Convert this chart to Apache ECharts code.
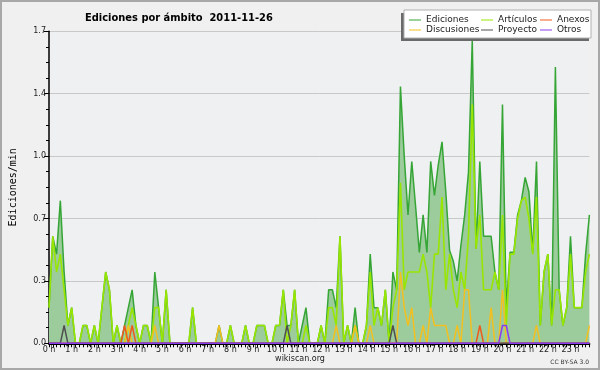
<!DOCTYPE html>
<html><head><meta charset="utf-8">
<script src="https://cdn.jsdelivr.net/npm/echarts@6/dist/echarts.min.js"></script>
<style>html,body{margin:0;padding:0;background:#f0f0f0}#c{width:600px;height:370px}</style>
</head><body><div id="c"></div>
<script>
const hourLabels = ['0 h','1 h','2 h','3 h','4 h','5 h','6 h','7 h','8 h','9 h','10 h','11 h','12 h','13 h','14 h','15 h','16 h','17 h','18 h','19 h','20 h','21 h','22 h','23 h'];
const yTickLabels = ['0.0','0.3','0.7','1.0','1.4','1.7'];

const ediciones = [
 0.2,0.6,0.5,0.8,0.4,0.1,0.2,0,0,0.1,0.1,0,
 0.1,0,0.2,0.4,0.3,0,0.1,0,0.1,0.2,0.3,0.1,
 0,0.1,0.1,0,0.4,0.2,0,0.3,0,0,0,0,
 0,0,0.2,0,0,0,0,0,0,0.1,0,0,
 0.1,0,0,0,0.1,0,0,0.1,0.1,0.1,0,0,
 0.1,0.1,0.3,0.1,0.1,0.3,0,0.1,0.2,0,0,0,
 0.1,0,0.3,0.3,0.2,0.6,0,0.1,0,0.2,0,0,
 0.1,0.5,0.2,0.2,0.1,0.3,0,0.4,0.3,1.44,1.05,0.72,
 1.02,0.77,0.51,0.72,0.51,1.02,0.83,1.0,1.13,0.85,0.52,0.46,
 0.35,0.55,0.72,0.96,1.7,0.53,1.02,0.6,0.6,0.6,0.4,0.3,
 1.34,0.2,0.51,0.51,0.72,0.8,0.93,0.85,0.51,1.02,0.1,0.4,
 0.5,0.1,1.55,0.3,0.1,0.2,0.6,0.2,0.2,0.2,0.5,0.72];
const articulos = [
 0.2,0.6,0.4,0.5,0.3,0.1,0.2,0,0,0.1,0.1,0,
 0.1,0,0.2,0.4,0.3,0,0.1,0,0,0.1,0.2,0.1,
 0,0.1,0.1,0,0.2,0.2,0,0.3,0,0,0,0,
 0,0,0.2,0,0,0,0,0,0,0,0,0,
 0.1,0,0,0,0.1,0,0,0.1,0.1,0.1,0,0,
 0.1,0.1,0.3,0,0.1,0.3,0,0,0.1,0,0,0,
 0.1,0,0.2,0.2,0.1,0.6,0,0.1,0,0.1,0,0,
 0.1,0.4,0.1,0.2,0.1,0.3,0,0.2,0.3,0.9,0.3,0.4,
 0.4,0.4,0.4,0.5,0.4,0.2,0.5,0.5,0.82,0.3,0.5,0.3,
 0.2,0.4,0.3,0.6,1.34,0.53,0.72,0.3,0.3,0.3,0.4,0.3,
 0.72,0.1,0.5,0.5,0.7,0.8,0.82,0.7,0.5,0.82,0.1,0.4,
 0.5,0.1,0.3,0.3,0.1,0.2,0.5,0.2,0.2,0.2,0.4,0.5];
const discusiones = [
 0,0,0,0,0,0,0,0,0,0,0,0,
 0,0,0,0,0,0,0,0,0,0.1,0,0,
 0,0,0,0,0.1,0,0,0,0,0,0,0,
 0,0,0,0,0,0,0,0,0,0.1,0,0,
 0,0,0,0,0,0,0,0,0,0,0,0,
 0,0,0,0,0,0,0,0,0,0,0,0,
 0,0,0,0,0.1,0,0,0,0,0.1,0,0,
 0,0.1,0,0,0,0,0,0,0,0.4,0.2,0.1,
 0.2,0,0,0.1,0,0.2,0.1,0.1,0.1,0.1,0,0,
 0.1,0,0.3,0.3,0,0,0,0,0,0.2,0,0,
 0.3,0,0,0,0,0,0,0,0,0.1,0,0,
 0,0,0,0,0,0,0,0,0,0,0,0.1];
const anexos = [
 0,0,0,0,0,0,0,0,0,0,0,0,
 0,0,0,0,0,0,0,0,0.1,0,0.1,0,
 0,0,0,0,0,0,0,0,0,0,0,0,
 0,0,0,0,0,0,0,0,0,0,0,0,
 0,0,0,0,0,0,0,0,0,0,0,0,
 0,0,0,0,0,0,0,0,0,0,0,0,
 0,0,0,0,0,0,0,0,0,0,0,0,
 0,0,0,0,0,0,0,0,0,0,0,0,
 0,0,0,0,0,0,0,0,0,0,0,0,
 0,0,0,0,0,0,0.1,0,0,0,0,0,
 0,0,0,0,0,0,0,0,0,0,0,0,
 0,0,0,0,0,0,0,0,0,0,0,0];
const proyecto = [
 0,0,0,0,0.1,0,0,0,0,0,0,0,
 0,0,0,0,0,0,0,0,0,0,0,0,
 0,0,0,0,0,0,0,0,0,0,0,0,
 0,0,0,0,0,0,0,0,0,0,0,0,
 0,0,0,0,0,0,0,0,0,0,0,0,
 0,0,0,0.1,0,0,0,0,0,0,0,0,
 0,0,0,0,0,0,0,0,0,0,0,0,
 0,0,0,0,0,0,0,0.1,0,0,0,0,
 0,0,0,0,0,0,0,0,0,0,0,0,
 0,0,0,0,0,0,0,0,0,0,0,0,
 0,0,0,0,0,0,0,0,0,0,0,0,
 0,0,0,0,0,0,0,0,0,0,0,0];
const otros = [
 0,0,0,0,0,0,0,0,0,0,0,0,
 0,0,0,0,0,0,0,0,0,0,0,0,
 0,0,0,0,0,0,0,0,0,0,0,0,
 0,0,0,0,0,0,0,0,0,0,0,0,
 0,0,0,0,0,0,0,0,0,0,0,0,
 0,0,0,0,0,0,0,0,0,0,0,0,
 0,0,0,0,0,0,0,0,0,0,0,0,
 0,0,0,0,0,0,0,0,0,0,0,0,
 0,0,0,0,0,0,0,0,0,0,0,0,
 0,0,0,0,0,0,0,0,0,0,0,0,
 0.1,0.1,0,0,0,0,0,0,0,0,0,0,
 0,0,0,0,0,0,0,0,0,0,0,0];

const times = ediciones.map((_, i) => String(Math.floor(i/6)).padStart(2,'0') + ':' + String((i%6)*10).padStart(2,'0'));

const FONT = 'DejaVu Sans';
const chart = echarts.init(document.getElementById('c'), null, {renderer:'canvas'});

function lineSeries(name, data, color, width, z) {
  return {name, type:'line', data, symbol:'none', showSymbol:false, smooth:false,
    lineStyle:{color, width}, itemStyle:{color}, z, animation:false};
}

const legendBase = {orient:'vertical', itemGap:0, itemWidth:12, itemHeight:8, z:30, padding:0,
  textStyle:{fontSize:9, fontFamily:FONT, color:'#222', lineHeight:10},
  lineStyle:{width:1}, icon:'path://M0,4L12,4L12,5L0,5Z'};

chart.setOption({
  backgroundColor:'#f0f0f0',
  animation:false,
  title:{text:'Ediciones por ámbito  2011-11-26', left:80, top:8,
    textStyle:{fontSize:11, fontWeight:'bold', fontFamily:"'DejaVu Sans Condensed', 'DejaVu Sans'", color:'#000'}},
  legend:[
    Object.assign({}, legendBase, {left:409, top:15, data:['Ediciones','Discusiones']}),
    Object.assign({}, legendBase, {left:481, top:15, data:['Artículos','Proyecto']}),
    Object.assign({}, legendBase, {left:540, top:15, data:['Anexos','Otros']})
  ],
  grid:{left:46, right:10.6, top:31.3, bottom:26.7, show:true, backgroundColor:'#eff0f2', borderWidth:0},
  xAxis:{type:'category', data:times, boundaryGap:false, z:5,
    axisLine:{show:true, lineStyle:{color:'#000', width:2}},
    axisTick:{show:true, interval:0, length:4, lineStyle:{color:'#000', width:1}},
    axisLabel:{interval:5, margin:3, fontSize:8, fontFamily:FONT, color:'#222',
      formatter:(v, idx) => hourLabels[Math.round(idx/6)]},
    splitLine:{show:false}},
  yAxis:{type:'value', min:0, max:1.75, interval:0.35,
    name:'Ediciones/min', nameLocation:'middle', nameGap:31, nameRotate:90,
    nameTextStyle:{fontFamily:'DejaVu Sans Mono', fontSize:10, color:'#000'},
    axisLine:{show:true, lineStyle:{color:'#000', width:1.5}},
    axisTick:{show:true, length:5, lineStyle:{color:'#000'}},
    minorTick:{show:true, splitNumber:4, length:3, lineStyle:{color:'#000'}},
    axisLabel:{margin:3, fontSize:8, fontFamily:FONT, color:'#222',
      formatter:v => yTickLabels[Math.round(v/0.35)]},
    splitLine:{show:true, lineStyle:{color:'#c8c8c8', width:1}}},
  series:[
    Object.assign(lineSeries('Ediciones', ediciones, '#35a535', 1.5, 2),
      {areaStyle:{color:'#9ccb9c', opacity:1}}),
    lineSeries('Artículos', articulos, '#98e600', 1.6, 3),
    lineSeries('Discusiones', discusiones, '#f2c020', 1.5, 4),
    lineSeries('Anexos', anexos, '#ee5a1c', 1.5, 5),
    lineSeries('Proyecto', proyecto, '#505050', 1.5, 6),
    lineSeries('Otros', otros, '#8a3cf0', 1.5, 7)
  ],
  graphic:[
    {type:'rect', z:20, shape:{x:401, y:13, width:188, height:28}, style:{fill:'#6a6a6a'}, silent:true},
    {type:'rect', z:21, shape:{x:404, y:10, width:187, height:28}, style:{fill:'#ffffff', stroke:'#b0b0b0', lineWidth:1}, silent:true},
    {type:'text', z:20, left:'center', top:355, style:{text:'wikiscan.org', fontSize:8, fontFamily:FONT, fill:'#222'}},
    {type:'text', z:20, right:11, top:359, style:{text:'CC BY-SA 3.0', fontSize:6, fontFamily:FONT, fill:'#333'}},
    {type:'rect', z:20, shape:{x:1, y:1, width:598, height:368}, style:{fill:null, stroke:'#a8a8a8', lineWidth:2}, silent:true}
  ]
});
</script></body></html>
